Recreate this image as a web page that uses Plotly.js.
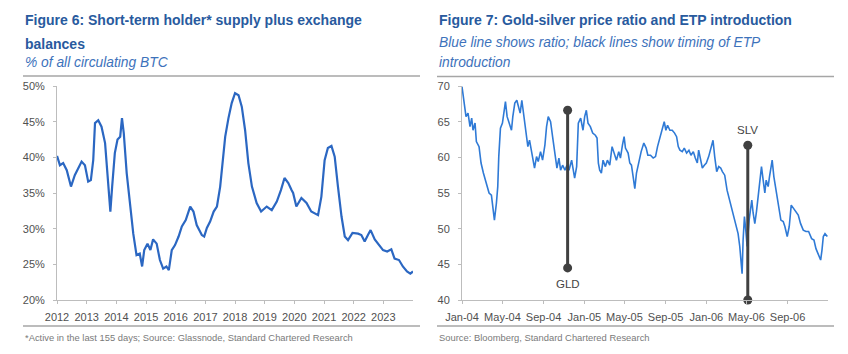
<!DOCTYPE html>
<html>
<head>
<meta charset="utf-8">
<script src="https://cdn.plot.ly/plotly-3.0.1.min.js"></script>
<style>html,body{margin:0;padding:0;background:#fff;}#chart{width:848px;height:354px;}</style>
</head>
<body>
<div id="chart"></div>
<script>
// ---- Figure 6 data: short-term holder supply + exchange balances (% of circulating BTC)
const btcYears = [2012.00,2012.10,2012.21,2012.33,2012.47,2012.60,2012.83,2012.94,2013.05,2013.14,2013.22,2013.28,2013.39,2013.50,2013.62,2013.73,2013.80,2013.86,2013.95,2014.04,2014.13,2014.19,2014.25,2014.35,2014.46,2014.57,2014.68,2014.79,2014.87,2014.94,2015.05,2015.15,2015.24,2015.36,2015.47,2015.58,2015.69,2015.77,2015.87,2015.98,2016.10,2016.21,2016.34,2016.49,2016.60,2016.71,2016.88,2016.96,2017.05,2017.16,2017.28,2017.39,2017.50,2017.58,2017.67,2017.78,2017.89,2018.00,2018.12,2018.23,2018.34,2018.45,2018.57,2018.73,2018.88,2019.07,2019.24,2019.41,2019.55,2019.67,2019.80,2019.91,2019.96,2020.07,2020.24,2020.41,2020.57,2020.80,2020.91,2021.02,2021.13,2021.25,2021.36,2021.47,2021.59,2021.70,2021.81,2021.96,2022.15,2022.26,2022.37,2022.48,2022.57,2022.71,2022.85,2022.99,2023.13,2023.27,2023.38,2023.53,2023.66,2023.80,2023.91,2024.00];
const btcShare = [40.2,38.9,39.2,38.2,35.9,37.5,39.4,38.9,36.6,36.8,39.6,44.8,45.2,44.3,42.0,36.8,32.4,35.9,40.6,42.5,42.9,45.5,43.4,37.8,33.1,29.3,26.3,26.5,24.7,27.0,27.9,27.0,28.5,27.9,25.6,24.4,24.7,24.2,27.0,27.7,28.9,30.3,31.2,33.1,32.4,30.5,29.1,28.9,30.1,31.0,32.4,33.1,35.9,39.2,42.9,45.5,47.6,49.0,48.7,47.1,43.8,39.2,35.9,33.6,32.4,33.1,32.6,33.8,35.4,37.1,36.4,35.4,35.0,33.1,34.3,33.6,32.4,31.9,34.5,39.6,41.3,41.6,40.1,35.9,31.7,28.9,28.4,29.4,29.3,29.1,28.2,29.1,29.8,28.5,27.7,27.0,26.8,27.1,25.8,25.6,24.7,24.0,23.7,24.0];

// ---- Figure 7 data: gold-silver ratio (months since Jan-2004, ratio)
const gsMonths = [0,0.2,0.4,0.6,0.8,0.95,1.1,1.28,1.44,1.7,1.93,2.16,2.42,2.68,2.91,3.07,3.2,3.4,3.56,3.66,3.8,4.0,4.15,4.3,4.48,4.7,4.88,5.03,5.2,5.43,5.62,5.76,5.9,6.08,6.28,6.51,6.67,6.84,7.0,7.16,7.33,7.49,7.72,7.92,8.15,8.31,8.47,8.7,8.9,9.06,9.22,9.35,9.52,9.69,9.88,10.1,10.33,10.53,10.77,10.92,11.09,11.26,11.42,11.65,11.9,12.04,12.2,12.36,12.6,12.83,13.08,13.25,13.41,13.57,13.74,13.9,14.13,14.33,14.55,14.79,14.98,15.21,15.44,15.63,15.8,15.97,16.12,16.36,16.52,16.68,16.85,17.0,17.17,17.4,17.66,17.93,18.15,18.32,18.58,18.81,19.04,19.23,19.4,19.56,19.73,19.89,20.05,20.22,20.45,20.68,20.93,21.1,21.27,21.43,21.66,21.86,22.08,22.31,22.5,22.74,22.96,23.16,23.29,23.45,23.62,23.82,24.0,24.24,24.47,24.66,24.83,25.0,25.22,25.45,25.64,25.88,26.1,26.37,26.62,26.86,27.02,27.18,27.35,27.48,27.58,27.67,27.8,27.94,28.07,28.26,28.39,28.53,28.66,28.82,28.98,29.15,29.31,29.47,29.64,29.8,29.96,30.13,30.29,30.52,30.69,30.84,31.01,31.21,31.37,31.6,31.77,31.99,32.19,32.38,32.58,32.85,33.07,33.3,33.56,33.82,34.08,34.38,34.61,34.81,35.03,35.26,35.4,35.53,35.69,35.92];
const gsRatio = [69.9,67.6,65.7,66.2,64.3,65.5,63.8,64.8,62.2,61.5,59.2,57.8,56.4,55.0,54.7,52.4,51.2,53.6,55.9,60.1,64.1,64.8,66.2,67.8,65.7,64.8,63.8,65.7,67.6,68.0,67.1,66.2,68.0,66.2,63.8,61.5,62.4,61.0,59.6,58.5,60.1,59.4,60.8,59.6,61.7,64.3,65.7,65.0,62.9,61.5,60.1,58.5,59.9,58.2,58.9,58.2,58.9,58.2,59.6,58.7,57.1,58.7,64.8,65.5,63.8,65.7,66.6,64.8,64.3,63.4,63.1,62.7,59.2,58.2,57.8,59.6,58.7,59.6,58.9,61.5,60.6,59.6,60.8,59.9,61.7,62.9,61.3,60.6,59.2,58.9,57.3,55.6,57.8,59.4,60.8,62.0,61.3,60.3,60.3,59.9,60.1,61.5,62.4,63.4,64.3,65.0,63.8,64.5,63.8,63.8,63.4,62.9,61.5,61.0,60.8,61.3,60.6,61.0,60.3,60.8,59.9,59.2,61.0,59.6,58.5,58.9,59.2,60.1,61.5,62.4,60.1,58.0,58.7,58.5,58.0,57.5,55.4,54.0,52.4,51.2,50.3,49.3,47.5,45.6,43.7,48.4,51.7,49.8,47.5,51.2,53.1,54.0,52.2,50.7,52.4,54.5,56.4,58.7,56.8,55.0,56.8,55.9,57.3,59.6,57.3,55.9,54.5,52.6,51.2,51.0,50.3,48.9,50.3,53.3,52.9,52.4,51.9,50.7,49.8,49.6,49.6,48.6,48.4,47.2,46.5,45.6,47.0,48.9,49.3,48.9];

// ETP introductions
const etpNames = ["GLD", "SLV"];
const etpDates = ["2004-11-12", "2006-05-05"];
const etpTop = [66.6, 61.7];
const etpBottom = [44.5, 40.0];

// tick labels
const btcTickLabels = ["2012","2013","2014","2015","2016","2017","2018","2019","2020","2021","2022","2023"];

function yearToDate(y) {
  const w = Math.floor(y), f = y - w;
  const a = Date.UTC(w, 0, 1), b = Date.UTC(w + 1, 0, 1);
  return new Date(a + f * (b - a)).toISOString().slice(0, 10);
}
function monthToDate(m) {
  const w = Math.floor(m), f = m - w;
  const a = Date.UTC(2004, w, 1), b = Date.UTC(2004, w + 1, 1);
  return new Date(a + f * (b - a)).toISOString().slice(0, 10);
}

const W = 848, H = 354;
const px = v => v / W, py = v => 1 - v / H;
const FONT = 'Liberation Sans, Arial, sans-serif';

const traces = [
  {x: btcYears.map(yearToDate), y: btcShare, xaxis: 'x', yaxis: 'y', type: 'scatter', mode: 'lines',
   line: {color: '#2b67c2', width: 2.2}, hoverinfo: 'skip'},
  {x: gsMonths.map(monthToDate), y: gsRatio, xaxis: 'x2', yaxis: 'y2', type: 'scatter', mode: 'lines',
   line: {color: '#2f7ad6', width: 1.6}, hoverinfo: 'skip'}
];
etpNames.forEach((n, i) => {
  traces.push({x: [etpDates[i], etpDates[i]], y: [etpBottom[i], etpTop[i]], xaxis: 'x2', yaxis: 'y2',
    type: 'scatter', mode: 'lines+markers', cliponaxis: false,
    line: {color: '#404040', width: 3}, marker: {color: '#404040', size: 9}, hoverinfo: 'skip'});
});

const tickFont = {family: FONT, size: 11, color: '#505050'};
const axisCommon = {showgrid: false, zeroline: false, showline: true, linecolor: '#bdbdbd', linewidth: 1,
  ticks: 'outside', ticklen: 3, tickcolor: '#bdbdbd', tickfont: tickFont, fixedrange: true};

const titleColor = '#285a9e', subColor = '#3d72bb';
const ann = [];
function txt(x, y, text, size, color, bold, italic) {
  ann.push({xref: 'paper', yref: 'paper', x: px(x), y: py(y), xanchor: 'left', yanchor: 'middle',
    text: bold ? '<b>' + text + '</b>' : (italic ? '<i>' + text + '</i>' : text), showarrow: false,
    font: {family: FONT, size: size, color: color}});
}
txt(23, 20.5, 'Figure 6: Short-term holder* supply plus exchange', 14, titleColor, true);
txt(23, 44, 'balances', 14, titleColor, true);
txt(23, 63, '% of all circulating BTC', 13.8, subColor, false, true);
txt(437, 20.5, 'Figure 7: Gold-silver price ratio and ETP introduction', 14, titleColor, true);
txt(437, 42.5, 'Blue line shows ratio; black lines show timing of ETP', 13.8, subColor, false, true);
txt(437, 63, 'introduction', 13.8, subColor, false, true);
txt(23, 337, '*Active in the last 155 days; Source: Glassnode, Standard Chartered Research', 9.4, '#7a7a7a');
txt(437, 337, 'Source: Bloomberg, Standard Chartered Research', 9.4, '#7a7a7a');

// ETP labels
ann.push({xref: 'x2', yref: 'y2', x: etpDates[0], y: etpBottom[0], text: etpNames[0], showarrow: false,
  yshift: -16, font: {family: FONT, size: 11.5, color: '#444'}});
ann.push({xref: 'x2', yref: 'y2', x: etpDates[1], y: etpTop[1], text: etpNames[1], showarrow: false,
  yshift: 15, font: {family: FONT, size: 11.5, color: '#444'}});

const rule = (x0, x1, y) => ({type: 'line', xref: 'paper', yref: 'paper', x0: px(x0), x1: px(x1),
  y0: py(y), y1: py(y), line: {color: '#a6a6a6', width: 1.5}});

const layout = {
  width: W, height: H, margin: {l: 0, r: 0, t: 0, b: 0}, showlegend: false,
  paper_bgcolor: '#ffffff', plot_bgcolor: '#ffffff',
  xaxis: Object.assign({}, axisCommon, {domain: [px(57), px(413)], anchor: 'y', type: 'date',
    range: ['2012-01-01', '2024-01-01'], tickvals: btcTickLabels.map(t => t + '-01-01'), ticktext: btcTickLabels,
    ticklabelstandoff: 4}),
  yaxis: Object.assign({}, axisCommon, {domain: [py(300), py(86)], anchor: 'x', range: [20, 50],
    dtick: 5, ticksuffix: '%', ticklabelstandoff: 6}),
  xaxis2: Object.assign({}, axisCommon, {domain: [px(462), px(828)], anchor: 'y2', type: 'date',
    range: ['2004-01-01', '2006-12-31'], tick0: '2004-01-01', dtick: 'M4', tickformat: '%b-%y',
    ticklabelstandoff: 4}),
  yaxis2: Object.assign({}, axisCommon, {domain: [py(300), py(86)], anchor: 'x2', range: [40, 70],
    dtick: 5, ticklabelstandoff: 6}),
  annotations: ann,
  shapes: [rule(23, 420, 76), rule(437, 834, 76.5), rule(23, 420, 326), rule(437, 834, 326)]
};

Plotly.newPlot('chart', traces, layout, {displayModeBar: false, staticPlot: true});
</script>
</body>
</html>
